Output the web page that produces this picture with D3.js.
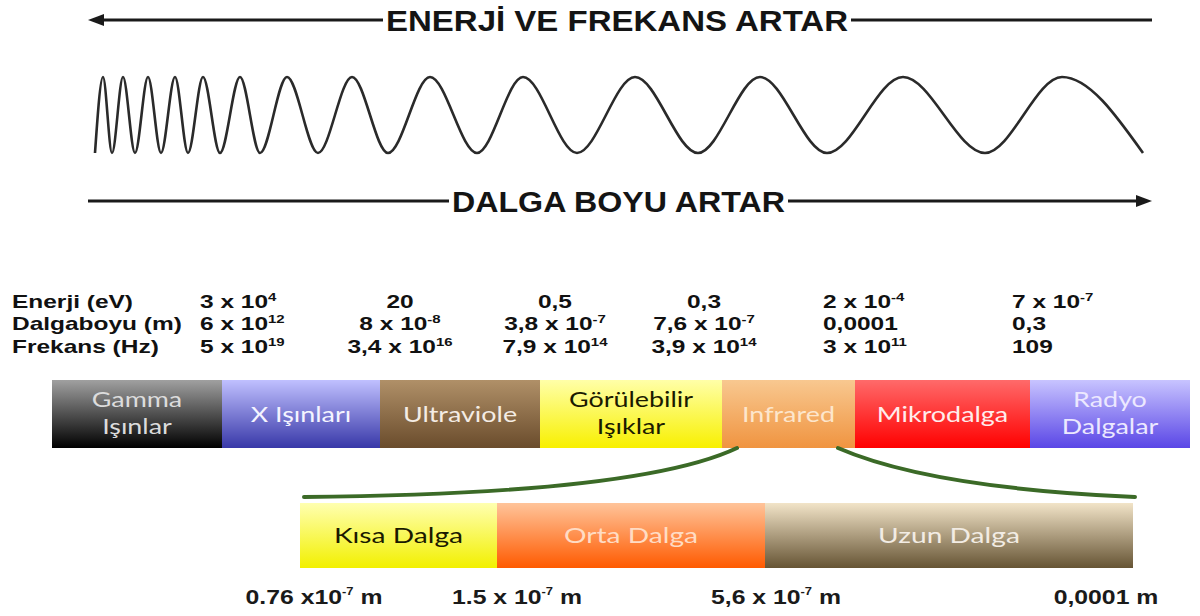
<!DOCTYPE html>
<meta charset="utf-8">
<style>
body { margin: 0; background: #ffffff; }
svg text { font-family: "Liberation Sans", Arial, sans-serif; }
.band-label { font-family: "Lato", "DejaVu Sans", sans-serif; }
</style>
<body>
<script src="https://cdnjs.cloudflare.com/ajax/libs/d3/7.8.5/d3.min.js"></script>
<script>

// ---- data ----
var topTitle = "ENERJİ  VE FREKANS ARTAR";
var bottomTitle = "DALGA BOYU ARTAR";

// wave extrema: x of each crest / trough, level 1 = crest, 0 = trough
var waveX = [95,103,112,123,135,148,161,175,188,203,220,240,260,287,318,352,388,430,477,523,577,635,698,760,827,903,985,1062,1143];
var waveLevel = [0,1,0,1,0,1,0,1,0,1,0,1,0,1,0,1,0,1,0,1,0,1,0,1,0,1,0,1,0];

var rowLabels = ["Enerji (eV)", "Dalgaboyu (m)", "Frekans (Hz)"];
// [text, exponent]
var energyVals = [["3 x 10","4"],["20",""],["0,5",""],["0,3",""],["2 x 10","-4"],["7 x 10","-7"]];
var lengthVals = [["6 x 10","12"],["8 x 10","-8"],["3,8 x 10","-7"],["7,6 x 10","-7"],["0,0001",""],["0,3",""]];
var freqVals   = [["5 x 10","19"],["3,4 x 10","16"],["7,9 x 10","14"],["3,9 x 10","14"],["3 x 10","11"],["109",""]];

var bandNames = [["Gamma","Işınlar"],["X Işınları"],["Ultraviole"],["Görülebilir","Işıklar"],["Infrared"],["Mikrodalga"],["Radyo","Dalgalar"]];
var bandWidths = [170,158,160,182,133,175,160];

var subNames = ["Kısa Dalga","Orta Dalga","Uzun Dalga"];
var subWidths = [197,268,368];
var subTicks = [["0.76 x10","-7"," m"],["1.5 x 10","-7"," m"],["5,6 x 10","-7"," m"],["0,0001","",  " m"]];

// ---- styles ----
var bandColors = [["#a0a0a0","#000000"],["#c0c0ff","#3838a8"],["#b09068","#6a4c2c"],["#ffffa8","#f8f000"],
                  ["#f8c890","#f09440"],["#ff6a6a","#ff0000"],["#c8c4ff","#5a46e6"]];
var bandText = ["#dcdcdc","#f4f4ff","#f4ece4","#1a1a00","#fde6cc","#ffecec","#ece8ff"];
var subColors = [["#ffffb0","#f2f000"],["#ffc49a","#ff5a00"],["#f2e4c8","#665434"]];
var subText = ["#1a1a00","#ffdcc4","#f2ece4"];

var W = 1200, H = 616;
var svg = d3.select("body").append("svg").attr("width", W).attr("height", H);
var defs = svg.append("defs");

function addGrad(id, c) {
  var g = defs.append("linearGradient").attr("id", id)
    .attr("x1", 0).attr("y1", 0).attr("x2", 0).attr("y2", 1);
  g.append("stop").attr("offset", "0%").attr("stop-color", c[0]);
  g.append("stop").attr("offset", "100%").attr("stop-color", c[1]);
}

// ---- arrows with titles ----
function arrowRow(y, title, tx0, tx1, leftHead) {
  var x0 = 88, x1 = 1152;
  svg.append("line").attr("x1", x0 + (leftHead ? 8 : 0)).attr("x2", tx0 - 3)
    .attr("y1", y).attr("y2", y).attr("stroke", "#1a1a1a").attr("stroke-width", 3);
  svg.append("line").attr("x1", tx1 + 3).attr("x2", x1 - (leftHead ? 0 : 8))
    .attr("y1", y).attr("y2", y).attr("stroke", "#1a1a1a").attr("stroke-width", 3);
  var head = leftHead ? [[x0, y],[x0 + 16, y - 6],[x0 + 16, y + 6]] : [[x1, y],[x1 - 16, y - 6],[x1 - 16, y + 6]];
  svg.append("polygon").attr("points", head.join(" ")).attr("fill", "#1a1a1a");
  svg.append("text").attr("x", tx0).attr("y", y + 11)
    .attr("textLength", tx1 - tx0).attr("lengthAdjust", "spacingAndGlyphs")
    .style("font-weight", "bold").style("font-size", "29px").style("fill", "#141414")
    .text(title);
}
arrowRow(20, topTitle, 386, 848, true);
arrowRow(201, bottomTitle, 452, 785, false);

// ---- wave ----
var wy = d3.scaleLinear().domain([0, 1]).range([153, 77]);
var wave = d3.line().x(function(d, i) { return waveX[i]; }).y(function(d) { return wy(d); })
  .curve(d3.curveMonotoneX);
svg.append("path").attr("d", wave(waveLevel)).attr("fill", "none")
  .attr("stroke", "#2a2a2a").attr("stroke-width", 2.6);

// ---- value table ----
var sx = 1.36;
var colX = [200, 400, 555, 704, 823, 1012];
var colAnchor = ["start","middle","middle","middle","start","start"];
var rows = [energyVals, lengthVals, freqVals];
var rowY = [308, 330, 353];
var tbl = svg.append("g").attr("transform", "scale(" + sx + ",1)");
rowLabels.forEach(function(lbl, r) {
  tbl.append("text").attr("x", 12 / sx).attr("y", rowY[r])
    .style("font-weight", "bold").style("font-size", "18px").style("fill", "#111")
    .text(lbl);
  rows[r].forEach(function(v, c) {
    var t = tbl.append("text").attr("x", colX[c] / sx).attr("y", rowY[r])
      .attr("text-anchor", colAnchor[c])
      .style("font-weight", "bold").style("font-size", "18px").style("fill", "#111");
    t.append("tspan").text(v[0]);
    if (v[1]) t.append("tspan").attr("dy", -7).style("font-size", "11px").text(v[1]);
  });
});

// ---- main spectrum bar ----
var bandEdges = [0].concat(Array.from(d3.cumsum(bandWidths)));
var xb = d3.scaleLinear().domain([0, d3.sum(bandWidths)]).range([52, 1190]);
var barTop = 380, barH = 68;
bandNames.forEach(function(n, i) {
  addGrad("bg" + i, bandColors[i]);
});
svg.selectAll(".band").data(bandNames).enter().append("rect")
  .attr("class", "band")
  .attr("x", function(d, i) { return xb(bandEdges[i]); })
  .attr("width", function(d, i) { return xb(bandEdges[i + 1]) - xb(bandEdges[i]); })
  .attr("y", barTop).attr("height", barH)
  .attr("fill", function(d, i) { return "url(#bg" + i + ")"; });

var bsx = 1.28;
var bl = svg.append("g").attr("transform", "scale(" + bsx + ",1)");
bandNames.forEach(function(lines, i) {
  var cx = (xb(bandEdges[i]) + xb(bandEdges[i + 1])) / 2;
  var y0 = lines.length === 1 ? barTop + barH / 2 + 8 : barTop + 27;
  lines.forEach(function(s, k) {
    bl.append("text").attr("class", "band-label")
      .attr("x", cx / bsx).attr("y", y0 + k * 27)
      .attr("text-anchor", "middle")
      .style("font-size", "21px").style("fill", bandText[i])
      .text(s);
  });
});

// ---- green connector curves from Infrared ----
var green = "#3b6a27";
var pL = d3.path(); pL.moveTo(737, 448); pL.quadraticCurveTo(640, 494, 304, 497);
var pR = d3.path(); pR.moveTo(838, 448); pR.quadraticCurveTo(930, 488, 1135, 497);
[pL, pR].forEach(function(p) {
  svg.append("path").attr("d", p.toString()).attr("fill", "none")
    .attr("stroke", green).attr("stroke-width", 4).attr("stroke-linecap", "round");
});

// ---- infrared sub bar ----
var subEdges = [0].concat(Array.from(d3.cumsum(subWidths)));
var xs = d3.scaleLinear().domain([0, d3.sum(subWidths)]).range([300, 1133]);
var subTop = 503, subH = 65;
subNames.forEach(function(n, i) { addGrad("sg" + i, subColors[i]); });
svg.selectAll(".sub").data(subNames).enter().append("rect")
  .attr("class", "sub")
  .attr("x", function(d, i) { return xs(subEdges[i]); })
  .attr("width", function(d, i) { return xs(subEdges[i + 1]) - xs(subEdges[i]); })
  .attr("y", subTop).attr("height", subH)
  .attr("fill", function(d, i) { return "url(#sg" + i + ")"; });
var sl = svg.append("g").attr("transform", "scale(" + bsx + ",1)");
subNames.forEach(function(n, i) {
  var cx = (xs(subEdges[i]) + xs(subEdges[i + 1])) / 2;
  sl.append("text").attr("class", "band-label")
    .attr("x", cx / bsx).attr("y", subTop + subH / 2 + 8)
    .attr("text-anchor", "middle")
    .style("font-size", "22px").style("fill", subText[i])
    .text(n);
});

// tick labels under the sub bar
var tickShift = [14, 20, 11, -27];
var tsx = 1.18;
var tl = svg.append("g").attr("transform", "scale(" + tsx + ",1)");
subTicks.forEach(function(v, i) {
  var t = tl.append("text").attr("x", (xs(subEdges[i]) + tickShift[i]) / tsx).attr("y", 604)
    .attr("text-anchor", "middle")
    .style("font-weight", "bold").style("font-size", "21px").style("fill", "#1a1a1a");
  t.append("tspan").text(v[0]);
  if (v[1]) t.append("tspan").attr("dy", -9).style("font-size", "11px").text(v[1]);
  t.append("tspan").attr("dy", v[1] ? 9 : 0).text(v[2]);
});

</script>
</body>
